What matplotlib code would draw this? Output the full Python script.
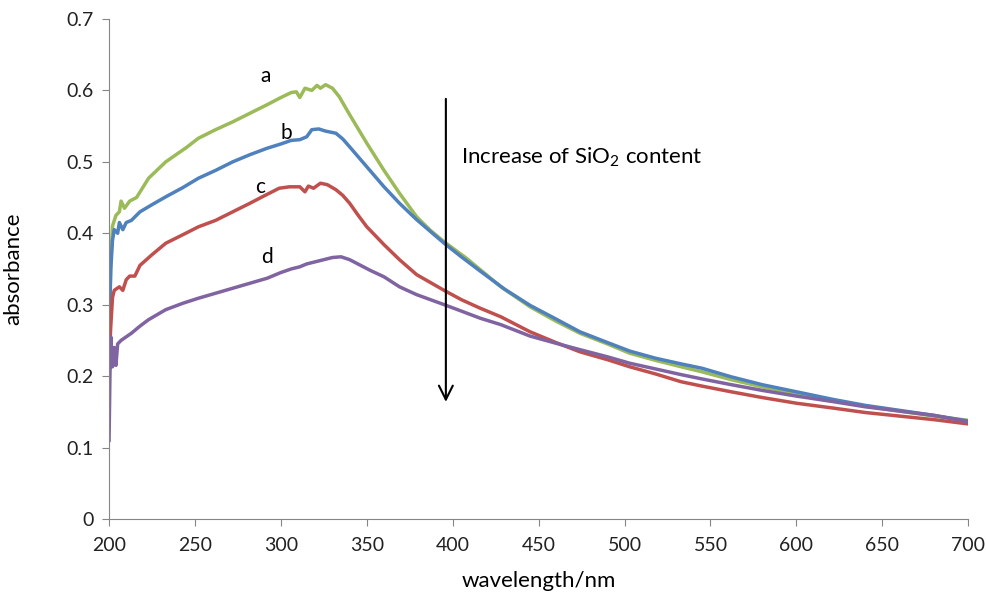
import numpy as np
import matplotlib
matplotlib.use("Agg")
import matplotlib.pyplot as plt

plt.rcParams['font.family'] = ['Lato', 'DejaVu Sans']
plt.rcParams['mathtext.fontset'] = 'custom'
plt.rcParams['mathtext.rm'] = 'Lato'

# curve a (green)
wl_a = [200, 201, 202, 204, 206, 207, 209, 212, 216, 223, 233, 245, 252, 262, 272, 282, 292, 300, 306,
        309, 311, 314, 318, 321, 323, 326, 330, 334, 340, 345, 350, 355, 360, 369, 379, 387, 395, 408,
        428, 445, 460, 474, 490, 503, 518, 533, 545, 562, 580, 600, 622, 640, 660, 680, 700]
abs_a = [0.25, 0.36, 0.41, 0.425, 0.43, 0.445, 0.435, 0.445, 0.45, 0.477, 0.50, 0.52, 0.533, 0.545, 0.556,
         0.568, 0.58, 0.59, 0.597, 0.598, 0.59, 0.603, 0.60, 0.607, 0.603, 0.608, 0.603, 0.591, 0.566,
         0.546, 0.526, 0.507, 0.488, 0.456, 0.423, 0.404, 0.388, 0.365, 0.325, 0.297, 0.277, 0.26,
         0.245, 0.232, 0.222, 0.213, 0.206, 0.195, 0.185, 0.175, 0.166, 0.158, 0.151, 0.144, 0.138]

# curve b (blue)
wl_b = [200, 201, 202, 203, 205, 206, 208, 210, 213, 218, 225, 233, 243, 252, 262, 272, 282, 292, 300,
        306, 311, 315, 318, 322, 326, 332, 336, 340, 345, 350, 360, 369, 379, 395, 405, 416, 430, 445,
        460, 474, 490, 503, 518, 533, 545, 562, 580, 600, 622, 640, 660, 680, 700]
abs_b = [0.25, 0.35, 0.39, 0.405, 0.40, 0.415, 0.405, 0.415, 0.418, 0.43, 0.44, 0.451, 0.464, 0.477,
         0.488, 0.50, 0.51, 0.519, 0.525, 0.53, 0.531, 0.535, 0.545, 0.546, 0.543, 0.54, 0.532, 0.521,
         0.507, 0.493, 0.465, 0.442, 0.419, 0.386, 0.367, 0.347, 0.322, 0.299, 0.28, 0.262, 0.247,
         0.235, 0.225, 0.217, 0.211, 0.199, 0.188, 0.178, 0.167, 0.159, 0.152, 0.145, 0.137]

# curve c (red)
wl_c = [200, 201, 202, 203, 206, 208, 210, 212, 215, 218, 225, 233, 243, 252, 262, 272, 282, 290, 299,
        305, 311, 314, 316, 319, 323, 327, 332, 336, 340, 345, 350, 360, 369, 379, 395, 405, 416, 428,
        445, 460, 474, 490, 503, 518, 533, 545, 562, 580, 600, 622, 640, 660, 680, 700]
abs_c = [0.22, 0.27, 0.31, 0.32, 0.325, 0.32, 0.335, 0.34, 0.34, 0.355, 0.37, 0.386, 0.398, 0.409,
         0.418, 0.43, 0.442, 0.452, 0.463, 0.465, 0.465, 0.458, 0.466, 0.463, 0.47, 0.468, 0.461,
         0.453, 0.442, 0.425, 0.409, 0.384, 0.363, 0.342, 0.32, 0.307, 0.295, 0.283, 0.262, 0.247,
         0.234, 0.223, 0.213, 0.203, 0.192, 0.186, 0.178, 0.17, 0.162, 0.155, 0.149, 0.144, 0.139, 0.133]

# curve d (purple)
wl_d = [200, 200.5, 201, 202, 203, 204, 205, 207, 210, 213, 218, 223, 233, 243, 252, 262, 272, 282, 292,
        300, 306, 311, 315, 320, 325, 330, 335, 340, 344, 352, 360, 369, 379, 395, 405, 416, 428, 445,
        460, 474, 490, 503, 518, 533, 545, 562, 580, 600, 622, 640, 660, 680, 700]
abs_d = [0.11, 0.20, 0.255, 0.213, 0.24, 0.215, 0.245, 0.25, 0.255, 0.26, 0.27, 0.279, 0.293, 0.302,
         0.309, 0.316, 0.323, 0.33, 0.337, 0.345, 0.35, 0.353, 0.357, 0.36, 0.363, 0.366, 0.367, 0.363,
         0.358, 0.348, 0.339, 0.325, 0.314, 0.30, 0.291, 0.281, 0.272, 0.256, 0.246, 0.237, 0.227,
         0.218, 0.21, 0.202, 0.196, 0.188, 0.18, 0.172, 0.164, 0.157, 0.151, 0.145, 0.136]

labels = ['a', 'b', 'c', 'd']
label_pos = [(291, 0.62), (303, 0.54), (288, 0.465), (292, 0.367)]
colors = ['#9BBB59', '#4F81BD', '#C0504D', '#8064A2']

fig = plt.figure(figsize=(9.87, 6.02), dpi=100)
ax = fig.add_axes([0.1105, 0.138, 0.8705, 0.8305])

series = [(wl_a, abs_a), (wl_b, abs_b), (wl_c, abs_c), (wl_d, abs_d)]
for (x, y), c in zip(series, colors):
    ax.plot(x, y, color=c, linewidth=2.5, solid_joinstyle='round')

for lab, (x, y) in zip(labels, label_pos):
    ax.text(x, y, lab, fontsize=15, ha='center', va='center', color='black')

ax.annotate('', xy=(396, 0.16), xytext=(396, 0.592),
            arrowprops=dict(arrowstyle='->', color='black', lw=1.5, mutation_scale=25))
ax.text(405, 0.507, r'Increase of SiO$_\mathrm{2}$ content', fontsize=16, ha='left', va='center')

ax.set_xlim(200, 700)
ax.set_ylim(0, 0.7)
ax.set_xticks(np.arange(200, 701, 50))
ax.set_yticks(np.arange(0, 0.71, 0.1))
ax.set_yticklabels(['0'] + ['%.1f' % v for v in np.arange(0.1, 0.71, 0.1)])

for s in ['top', 'right']:
    ax.spines[s].set_visible(False)
for s in ['left', 'bottom']:
    ax.spines[s].set_color('#868686')
ax.tick_params(axis='both', colors='#868686', labelcolor='#222222', labelsize=14, length=5, direction='out')
ax.tick_params(axis='x', pad=8)
ax.tick_params(axis='y', pad=6)

ax.set_xlabel('wavelength/nm', fontsize=16, labelpad=12)
ax.set_ylabel('absorbance', fontsize=16)
ax.yaxis.set_label_coords(-0.1, 0.5)

fig.savefig('out.png', dpi=100)
